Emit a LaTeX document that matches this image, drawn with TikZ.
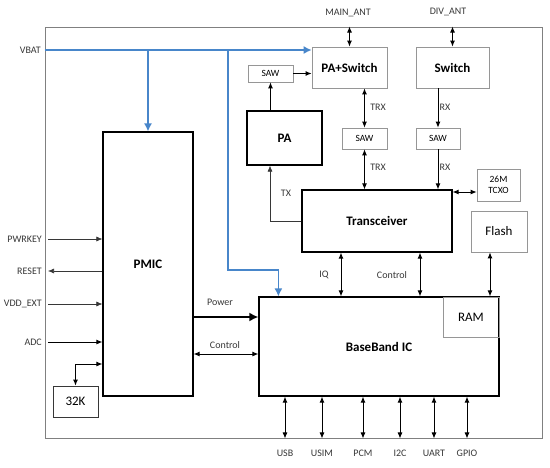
\documentclass[tikz,border=0pt]{standalone}
\usepackage{fontspec}
\setmainfont{Carlito}
\usetikzlibrary{calc}
\usetikzlibrary{arrows.meta}
\definecolor{vblue}{RGB}{72,134,202}
\definecolor{frm}{RGB}{128,128,128}
\definecolor{lgray}{RGB}{150,150,150}
\definecolor{txt}{RGB}{55,55,55}
\tikzset{
   hard/.style={draw=black, line width=1.2pt, inner sep=0pt,
      font=\bfseries\fontsize{13}{14}\selectfont},
   soft/.style={draw=lgray, line width=0.8pt, inner sep=0pt,
      font=\fontsize{13}{14}\selectfont},
   sawbox/.style={draw=lgray, line width=0.7pt, inner sep=0pt,
      font=\fontsize{9.5}{11}\selectfont},
   lbl/.style={font=\fontsize{10}{11}\selectfont, text=txt, inner sep=1pt},
   sig/.style={draw=black, line width=0.9pt, -{Latex[length=6pt,width=5pt]}},
   bisig/.style={draw=black, line width=0.9pt,
      {Latex[length=6pt,width=5pt]}-{Latex[length=6pt,width=5pt]}},
   vcc/.style={draw=vblue, line width=1.3pt, -{Latex[length=8pt,width=8pt]}},
   }
\begin{document}
\begin{tikzpicture}[x=1pt, y=-1pt]
            \useasboundingbox (0,0) rectangle (550,467);
            % frame and blocks
            \node[draw=frm, line width=0.9pt, minimum width=497, minimum height=411] (frame) at (293.5,232.5) {};
            \node[soft, font=\bfseries\fontsize{13}{14}\selectfont, minimum width=75, minimum height=41] (pasw) at (349.5,67.5) {PA+Switch};
            \node[soft, font=\bfseries\fontsize{13}{14}\selectfont, minimum width=73, minimum height=41] (sw) at (452.5,67.5) {Switch};
            \node[sawbox, minimum width=45, minimum height=17] (sawpa) at (270.5,73.5) {SAW};
            \node[hard, minimum width=75, minimum height=54] (pa) at (284.5,138) {PA};
            \node[sawbox, minimum width=45, minimum height=21] (sawtrx) at (364.5,138.5) {SAW};
            \node[sawbox, minimum width=44, minimum height=21] (sawrx) at (438,138.5) {SAW};
            \node[hard, minimum width=150, minimum height=62] (trx) at (377,221) {Transceiver};
            \node[sawbox, minimum width=43, minimum height=32, align=center] (tcxo) at (498.5,185) {26M\\TCXO};
            \node[soft, minimum width=56, minimum height=41] (flash) at (499,231.5) {Flash};
            \node[hard, minimum width=90, minimum height=264] (pmic) at (148,264) {PMIC};
            \node[hard, minimum width=240, minimum height=99] (bb) at (379,346.5) {BaseBand IC};
            \node[soft, minimum width=56, minimum height=40] (ram) at (471,317) {RAM};
            \node[draw=txt, line width=0.9pt, inner sep=0pt, font=\fontsize{13}{14}\selectfont, minimum width=45, minimum height=31] (k32) at (75.5,401.5) {32K};
            % VBAT
            \node[lbl, anchor=east] (vbat) at (42,50) {VBAT};
            \coordinate (vb) at (frame.west |- 0,50);
            \draw[vcc] (vb) -- (pasw.west |- vb);
            \draw[vcc] (pmic.north |- vb) -- (pmic.north);
            \draw[vcc] (vb -| 228,0) -- (228,270) -| ([xshift=20pt]bb.north west);
            % RF path
            \node[lbl] (mainant) at (348,13) {MAIN\_ANT};
            \node[lbl] (divant) at (448,12) {DIV\_ANT};
            \draw[bisig] (pasw.north) -- (pasw.north |- frame.north);
            \draw[bisig] (sw.north) -- (sw.north |- frame.north);
            \draw[sig] (sawpa.east) -- (sawpa.east -| pasw.west);
            \draw[sig] (sawpa.south |- pa.north) -- (sawpa.south);
            \draw[bisig] (sawtrx.north) -- (sawtrx.north |- pasw.south);
            \draw[bisig] (sawtrx.south) -- (sawtrx.south |- trx.north);
            \draw[sig] (sawrx.north |- sw.south) -- (sawrx.north);
            \draw[sig] (sawrx.south) -- (sawrx.south |- trx.north);
            \node[lbl] (trx1) at (378,107) {TRX};
            \node[lbl] (trx2) at (378,167) {TRX};
            \node[lbl] (rx1) at (445,107) {RX};
            \node[lbl] (rx2) at (445,167) {RX};
            \draw[draw=txt, line width=0.7pt, -{Latex[length=6pt,width=5pt]}] (trx.west) -| ([xshift=-14.5pt]pa.south);
            \node[lbl] (tx) at (286,193) {TX};
            \draw[bisig] (trx.east |- 0,192) -- (tcxo.west |- 0,192);
            % baseband links
            \draw[bisig] (trx.south -| 341,0) -- (bb.north -| 341,0);
            \draw[bisig] (trx.south -| 420,0) -- (bb.north -| 420,0);
            \draw[bisig] (flash.south -| 490,0) -- (bb.north -| 490,0);
            \node[lbl] (iq) at (324,275) {IQ};
            \node[lbl] (ctl1) at (392,275) {Control};
            \draw[draw=black, line width=2.2pt, -{Latex[length=9pt,width=9pt]}] (pmic.east |- 0,317) -- (bb.west |- 0,317);
            \draw[bisig] (pmic.east |- 0,354) -- (bb.west |- 0,354);
            \node[lbl] (pwr) at (220,302) {Power};
            \node[lbl] (ctl2) at (225,345) {Control};
            % PMIC pins
            \node[lbl, anchor=east] (pwrkey) at (43,239) {PWRKEY};
            \node[lbl, anchor=east] (reset) at (43,271) {RESET};
            \node[lbl, anchor=east] (vddext) at (43,304) {VDD\_EXT};
            \node[lbl, anchor=east] (adc) at (43,342) {ADC};
            \draw[sig, draw=txt, line width=0.6pt] (48,239) -- (pmic.west |- 0,239);
            \draw[sig, draw=txt, line width=0.6pt] (pmic.west |- 0,271) -- (48,271);
            \draw[sig, draw=txt, line width=0.6pt] (48,304) -- (pmic.west |- 0,304);
            \draw[sig] (48,342) -- (pmic.west |- 0,342);
            \draw[bisig] (pmic.west |- 0,364) -| (k32.north);
            % interfaces
            \foreach \x/\t in {285/USB, 322/USIM, 363/PCM, 400/I2C, 434/UART, 467/GPIO} {
               \draw[bisig] (bb.south -| \x,0) -- (frame.south -| \x,0);
               \node[lbl] (io\t) at (\x,453) {\t};
            }
\end{tikzpicture}
\end{document}
